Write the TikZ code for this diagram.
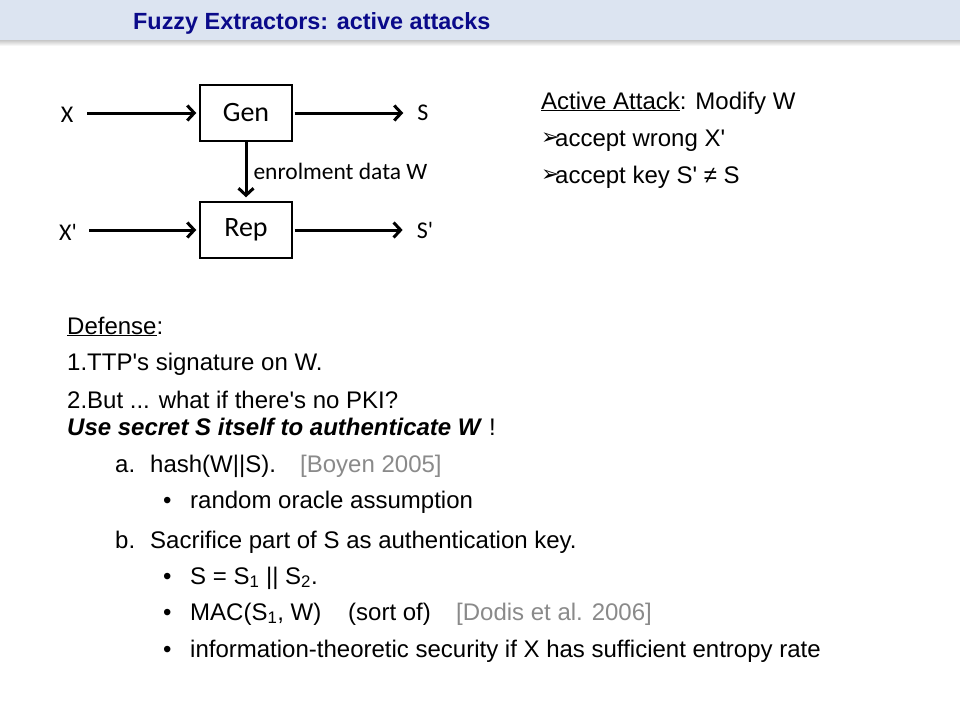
\documentclass[tikz,border=0pt]{standalone}
\usepackage{fontspec}
\setmainfont{Liberation Sans}[Ligatures=TeXOff]
\newfontfamily\carlito{Carlito}
\newfontfamily\dejavu{DejaVu Sans}
\usetikzlibrary{arrows.meta,shadings}
\definecolor{barblue}{HTML}{DCE4F1}
\definecolor{titleblue}{HTML}{0A0A8A}
\definecolor{refgray}{HTML}{8A8A8A}
\tikzset{
  txt/.style={anchor=base west,inner sep=0pt,font=\fontsize{24}{28}\selectfont},
  blk/.style={draw=black,line width=1.4pt,minimum width=92pt,minimum height=56pt,inner sep=0pt,font=\carlito\fontsize{28}{30}\selectfont},
  lab/.style={inner sep=0pt,font=\carlito\fontsize{24}{26}\selectfont},
  wlab/.style={inner sep=0pt,font=\carlito\fontsize{23.5}{25}\selectfont},
  arr/.style={line width=3pt,-{Straight Barb[length=7pt,width=15pt,line width=3pt]}},
  bul/.style={anchor=base west,inner sep=0pt,font=\dejavu\fontsize{22}{24}\selectfont}
}
\begin{document}
\begin{tikzpicture}[x=1pt,y=-1pt]
\useasboundingbox (0,0) rectangle (960,720);
\fill[white] (0,0) rectangle (960,720);
% title bar
\shade[top color=black!22,bottom color=white] (0,40) rectangle (960,46);
\fill[barblue] (0,0) rectangle (960,40);
\node[txt,font=\bfseries\fontsize{23.4}{28}\selectfont,text=titleblue] (title) at (133,29) {Fuzzy Extractors: active attacks};
% diagram
\node[blk] (Gen) at (246,113) {Gen};
\node[blk] (Rep) at (246,230) {Rep};
\node[lab] (X) at (67,115) {X};
\node[lab] (Xp) at (68,232) {X'};
\node[lab] (S) at (423,113) {S};
\node[lab] (Sp) at (425,230) {S'};
\draw[arr,shorten <=14pt,shorten >=3pt] (X.east|-Gen) -- (Gen.west);
\draw[arr,shorten <=12pt,shorten >=3pt] (Xp.east|-Rep) -- (Rep.west);
\draw[arr,shorten <=2pt,shorten >=14pt] (Gen.east) -- (S.west|-Gen);
\draw[arr,shorten <=2pt,shorten >=14pt] (Rep.east) -- (Sp.west|-Rep);
\draw[arr,shorten >=4pt] (Gen.south) -- (Rep.north) node[wlab,midway,anchor=west,xshift=6pt] (W) {enrolment data W};
% right text
\node[txt] (aa) at (541,109) {\underline{Active Attack}: Modify W};
\node[bul] (b1) at (541,144) {➢};
\node[txt] (l1) at (555,146) {accept wrong X'};
\node[bul] (b2) at (541,181) {➢};
\node[txt] (l2) at (555,183) {accept key S' ≠ S};
% lower text
\node[txt] (def) at (67,334) {\underline{Defense}:};
\node[txt] (d1) at (67,370) {1.TTP's signature on W.};
\node[txt] (d2) at (67,408) {2.But ... what if there's no PKI?};
\node[txt] (d3) at (67,435) {\textbf{\textit{Use secret S itself to authenticate W}} !};
\node[txt] (ea) at (115,472) {a.};
\node[txt] (ha) at (150,472) {hash(W||S).};
\node[txt,text=refgray] (boy) at (300,472) {[Boyen 2005]};
\node[txt] (u1) at (163,508) {•};
\node[txt] (ro) at (190,508) {random oracle assumption};
\node[txt] (eb) at (115,548) {b.};
\node[txt] (sa) at (150,548) {Sacrifice part of S as authentication key.};
\node[txt] (u2) at (163,584) {•};
\node[txt] (ss) at (190,584) {S = S\textsubscript{1} || S\textsubscript{2}.};
\node[txt] (u3) at (163,620) {•};
\node[txt] (mac) at (190,620) {MAC(S\textsubscript{1}, W)};
\node[txt] (so) at (348,620) {(sort of)};
\node[txt,text=refgray] (dod) at (456,620) {[Dodis et al. 2006]};
\node[txt] (u4) at (163,657) {•};
\node[txt] (it) at (190,657) {information-theoretic security if X has sufficient entropy rate};
\end{tikzpicture}
\end{document}
